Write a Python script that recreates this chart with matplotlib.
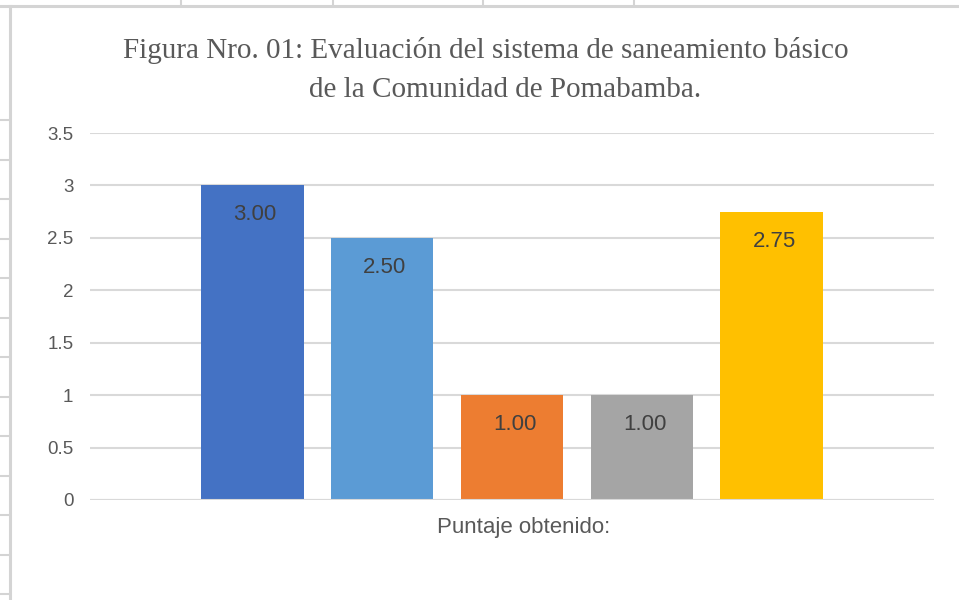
import matplotlib
matplotlib.use("Agg")
import matplotlib.pyplot as plt
from matplotlib.lines import Line2D

# data
categories = ["c1", "c2", "c3", "c4", "c5"]
values = [3.00, 2.50, 1.00, 1.00, 2.75]
colors = ["#4472C4", "#5B9BD5", "#ED7D31", "#A5A5A5", "#FFC000"]
yticks = [0, 0.5, 1, 1.5, 2, 2.5, 3, 3.5]
title_lines = ["Figura Nro. 01: Evaluación del sistema de saneamiento básico",
               "de la Comunidad de Pomabamba."]
xlabel = "Puntaje obtenido:"

fig = plt.figure(figsize=(9.59, 6.0), dpi=100)
W, H = 959, 600

# spreadsheet cell lines behind the chart
grid_col = "#D4D4D4"
fig.add_artist(Line2D([0, 1], [1 - 6 / H, 1 - 6 / H], color=grid_col, lw=2.2))
fig.add_artist(Line2D([10 / W, 10 / W], [0, 1 - 6 / H], color=grid_col, lw=2.2))
for x in [181, 333, 483, 634]:
    fig.add_artist(Line2D([x / W, x / W], [1 - 6 / H, 1], color=grid_col, lw=1.5))
for y in [120, 160, 199, 239, 278, 318, 357, 397, 436, 476, 515, 555, 594]:
    fig.add_artist(Line2D([0, 10 / W], [1 - y / H, 1 - y / H], color=grid_col, lw=1.5))

ax = fig.add_axes([90 / W, 100 / H, 844 / W, 367 / H])
pos = list(range(len(values)))
bars = ax.bar(pos, values, width=0.79, color=colors, zorder=3)

for b, v in zip(bars, values):
    ax.text(b.get_x() + b.get_width() / 2 + 0.02, v - 0.28, "%.2f" % v,
            ha="center", va="center", fontsize=16, color="#404040",
            family="Liberation Sans", zorder=4)

ax.set_xlim(-1.25, 5.25)
ax.set_ylim(0, 3.5)
ax.set_yticks(yticks)
ax.set_yticklabels(["%g" % t for t in yticks], family="Liberation Sans",
                   fontsize=13.5, color="#595959")
ax.set_xticks([])
ax.tick_params(axis="y", length=0, pad=12)
ax.grid(axis="y", color="#D9D9D9", lw=1.5, zorder=0)
for s in ax.spines.values():
    s.set_visible(False)
ax.axhline(0, color="#D9D9D9", lw=1.5, zorder=5)

ax.set_xlabel(xlabel, family="Liberation Sans", fontsize=16, color="#595959")
ax.xaxis.set_label_coords(0.514, -0.045)
ax.xaxis.label.set_va("top")

fig.text(486 / W, 1 - 51 / H, title_lines[0], ha="center", va="center",
         family="Liberation Serif", fontsize=21, color="#595959")
fig.text(505 / W, 1 - 90 / H, title_lines[1], ha="center", va="center",
         family="Liberation Serif", fontsize=21, color="#595959")

fig.savefig("out.png", dpi=100, facecolor="white")
